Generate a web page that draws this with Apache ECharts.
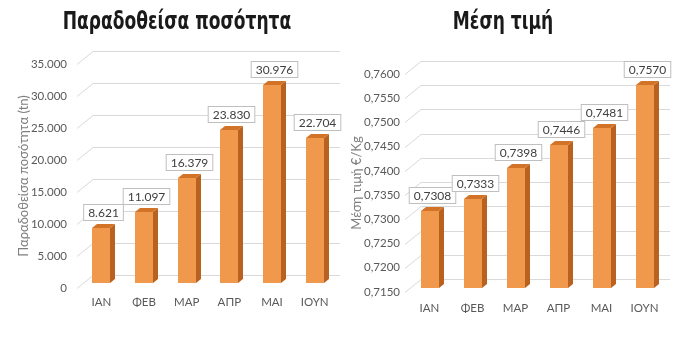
<!DOCTYPE html>
<html><head><meta charset="utf-8">
<script src="https://cdn.jsdelivr.net/npm/echarts@6/dist/echarts.min.js"></script>
<style>html,body{margin:0;padding:0;background:#fff}#c{width:700px;height:341px}</style>
</head><body><div id="c"></div>
<script>
const categories = ['ΙΑΝ','ΦΕΒ','ΜΑΡ','ΑΠΡ','ΜΑΙ','ΙΟΥΝ'];
const quantity = [8621, 11097, 16379, 23830, 30976, 22704];
const price = [0.7308, 0.7333, 0.7398, 0.7446, 0.7481, 0.7570];
const quantityTicks = [0, 5000, 10000, 15000, 20000, 25000, 30000, 35000];
const priceTicks = [0.7150, 0.7200, 0.7250, 0.7300, 0.7350, 0.7400, 0.7450, 0.7500, 0.7550, 0.7600];
const titles = ['Παραδοθείσα ποσότητα', 'Μέση τιμή'];

const FONT = 'Lato, "Open Sans", sans-serif';
const TITLE_FONT = 'bold 25px "DejaVu Sans Condensed", "DejaVu Sans", sans-serif';
const fmtQty = v => Math.round(v).toString().replace(/\B(?=(\d{3})+(?!\d))/g, '.');
const fmtPrice = v => v.toFixed(4).replace('.', ',');

function barRenderer(yMin, lift, fmt) {
  return function (params, api) {
    const cat = api.value(0), v = api.value(1);
    const t = api.coord([cat, v]);
    const b = api.coord([cat, yMin]);
    const w = 18, dx = 5, dz = -4;
    const x0 = Math.round(t[0] - w / 2);
    const yt = Math.round(t[1] - lift), yb = Math.round(b[1] - lift);
    return {
      type: 'group',
      children: [
        {type: 'polygon', shape: {points: [[x0 + w, yt], [x0 + w + dx, yt + dz], [x0 + w + dx, yb + dz], [x0 + w, yb]]}, style: {fill: '#B9611F'}},
        {type: 'polygon', shape: {points: [[x0, yt], [x0 + dx, yt + dz], [x0 + w + dx, yt + dz], [x0 + w, yt]]}, style: {fill: '#D27327'}},
        {type: 'rect', shape: {x: x0, y: yt, width: w, height: yb - yt}, style: {fill: '#F0984B'}},
        {type: 'text', x: x0 + (w + dx) / 2, y: yt + dz - 4,
          style: {text: fmt(v), fill: '#404040', font: '12px ' + FONT, align: 'center', verticalAlign: 'bottom',
            backgroundColor: '#fff', borderColor: '#BFBFBF', borderWidth: 1, padding: [2, 4, 1, 4]}}
      ]
    };
  };
}

function gridRenderer(params, api) {
  const y = Math.round(api.coord([0, api.value(1)])[1]) + 0.5;
  const cs = params.coordSys;
  return {
    type: 'polyline', silent: true,
    shape: {points: [[cs.x - 3, y], [cs.x + 13, y - 13], [cs.x + cs.width + 4, y - 13]]},
    style: {stroke: '#D9D9D9', lineWidth: 1, fill: null}
  };
}

const chart = echarts.init(document.getElementById('c'), null, {renderer: 'canvas'});
const axisLabelStyle = {color: '#595959', fontSize: 11.5, fontFamily: FONT};
chart.setOption({
  animation: false,
  backgroundColor: '#fff',
  graphic: [
    {type: 'text', x: 177, y: 22, scaleX: 0.76, style: {text: titles[0], font: TITLE_FONT, fill: '#1a1a1a', align: 'center', verticalAlign: 'middle'}},
    {type: 'text', x: 503, y: 22, scaleX: 0.76, style: {text: titles[1], font: TITLE_FONT, fill: '#1a1a1a', align: 'center', verticalAlign: 'middle'}}
  ],
  grid: [
    {left: 80, top: 64, width: 256, height: 224},
    {left: 408, top: 74, width: 258, height: 218}
  ],
  xAxis: [
    {type: 'category', gridIndex: 0, data: categories, axisLine: {show: false}, axisTick: {show: false},
      axisLabel: Object.assign({margin: 8}, axisLabelStyle)},
    {type: 'category', gridIndex: 1, data: categories, axisLine: {show: false}, axisTick: {show: false},
      axisLabel: Object.assign({margin: 10}, axisLabelStyle)}
  ],
  yAxis: [
    {type: 'value', gridIndex: 0, min: 0, max: 35000, interval: 5000,
      name: 'Παραδοθείσα ποσότητα (tn)', nameLocation: 'middle', nameGap: 50, nameMoveOverlap: false,
      nameTextStyle: {color: '#7F7F7F', fontSize: 13, fontFamily: FONT},
      splitLine: {show: false}, axisLine: {show: false}, axisTick: {show: false},
      axisLabel: Object.assign({margin: 13, formatter: fmtQty}, axisLabelStyle)},
    {type: 'value', gridIndex: 1, min: 0.7150, max: 0.7600, interval: 0.005,
      name: 'Μέση τιμή €/Kg', nameLocation: 'middle', nameGap: 45, nameMoveOverlap: false,
      nameTextStyle: {color: '#7F7F7F', fontSize: 13, fontFamily: FONT},
      splitLine: {show: false}, axisLine: {show: false}, axisTick: {show: false},
      axisLabel: Object.assign({margin: 8, formatter: fmtPrice}, axisLabelStyle)}
  ],
  series: [
    {type: 'custom', xAxisIndex: 0, yAxisIndex: 0, renderItem: gridRenderer, silent: true, z: 1,
      data: quantityTicks.map(v => [0, v]), encode: {x: 0, y: 1}},
    {type: 'custom', xAxisIndex: 1, yAxisIndex: 1, renderItem: gridRenderer, silent: true, z: 1,
      data: priceTicks.map(v => [0, v]), encode: {x: 0, y: 1}},
    {type: 'custom', xAxisIndex: 0, yAxisIndex: 0, renderItem: barRenderer(0, 5, fmtQty), z: 2,
      data: quantity.map((v, i) => [i, v]), encode: {x: 0, y: 1}},
    {type: 'custom', xAxisIndex: 1, yAxisIndex: 1, renderItem: barRenderer(0.7150, 4, fmtPrice), z: 2,
      data: price.map((v, i) => [i, v]), encode: {x: 0, y: 1}}
  ]
});
</script></body></html>
